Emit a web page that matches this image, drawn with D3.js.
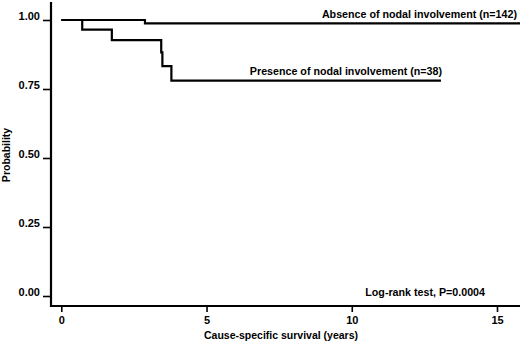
<!DOCTYPE html>
<html>
<head>
<meta charset="utf-8">
<script src="https://cdn.jsdelivr.net/npm/d3@7"></script>
<style>
  body { margin: 0; background: #fff; }
  text { font-family: "Liberation Sans", Arial, sans-serif; font-weight: bold; fill: #000; }
</style>
</head>
<body>
<div id="km"></div>
<script>
// Kaplan-Meier steps: [time (years), survival]
var absence = [[0, 1.0], [2.88, 0.988], [15.8, 0.988]];
var presence = [[0, 1.0], [0.72, 0.965], [1.74, 0.927], [3.44, 0.883], [3.48, 0.833], [3.79, 0.78], [13.07, 0.78]];
var x_ticks = [0, 5, 10, 15];
var y_ticks = [0, 0.25, 0.5, 0.75, 1.0];

var setWidth = 520, setHeight = 344;

var svg = d3.select("#km")
    .append("svg")
    .attr("width", setWidth)
    .attr("height", setHeight);

// scales
var x = d3.scaleLinear().domain([0, 15]).range([61.3, 497]);
var y = d3.scaleLinear().domain([0, 1]).range([296, 20]);

// y axis
var yAxis = svg.append("g")
    .attr("transform", "translate(51,0)")
    .call(d3.axisLeft(y).tickValues(y_ticks).tickFormat(d3.format(".2f")).tickSize(8).tickSizeOuter(0));
yAxis.select(".domain").remove();
yAxis.append("line")
    .attr("x1", 0).attr("x2", 0).attr("y1", 2).attr("y2", 307)
    .attr("stroke", "#000").attr("stroke-width", 2.2);

// x axis
var xAxis = svg.append("g")
    .attr("transform", "translate(0,306)")
    .call(d3.axisBottom(x).tickValues(x_ticks).tickSize(6).tickSizeOuter(0));
xAxis.select(".domain").remove();
xAxis.append("line")
    .attr("x1", 50).attr("x2", 520).attr("y1", 0).attr("y2", 0)
    .attr("stroke", "#000").attr("stroke-width", 2.2);

svg.selectAll(".tick line").attr("stroke", "#000").attr("stroke-width", 1.6);
svg.selectAll(".tick text").style("font-size", "11px").attr("fill", "#000");
// y tick labels sit just above their tick
yAxis.selectAll(".tick text").attr("x", -11).attr("dy", "-0.05em");
xAxis.selectAll(".tick text").attr("y", 10);

// axis labels
svg.append("text")
    .attr("text-anchor", "middle")
    .attr("x", 281).attr("y", 339)
    .style("font-size", "10.5px")
    .text("Cause-specific survival (years)");

svg.append("text")
    .attr("text-anchor", "middle")
    .attr("transform", "rotate(-90)")
    .attr("x", -155).attr("y", 10)
    .style("font-size", "10.5px")
    .text("Probability");

// survival curves
var step = d3.line()
    .x(function (d) { return x(d[0]); })
    .y(function (d) { return y(d[1]); })
    .curve(d3.curveStepAfter);

svg.selectAll(".km_curve")
    .data([absence, presence])
    .join("path")
    .attr("class", "km_curve")
    .attr("d", step)
    .attr("fill", "none")
    .attr("stroke", "#000")
    .attr("stroke-width", 2.2);

// curve labels
svg.append("text")
    .attr("text-anchor", "end")
    .attr("x", 517).attr("y", 18)
    .style("font-size", "10.7px")
    .text("Absence of nodal involvement (n=142)");

svg.append("text")
    .attr("text-anchor", "end")
    .attr("x", 442).attr("y", 75)
    .style("font-size", "10.7px")
    .text("Presence of nodal involvement (n=38)");

svg.append("text")
    .attr("text-anchor", "end")
    .attr("x", 485).attr("y", 296)
    .style("font-size", "10.7px")
    .text("Log-rank test, P=0.0004");
</script>
</body>
</html>
